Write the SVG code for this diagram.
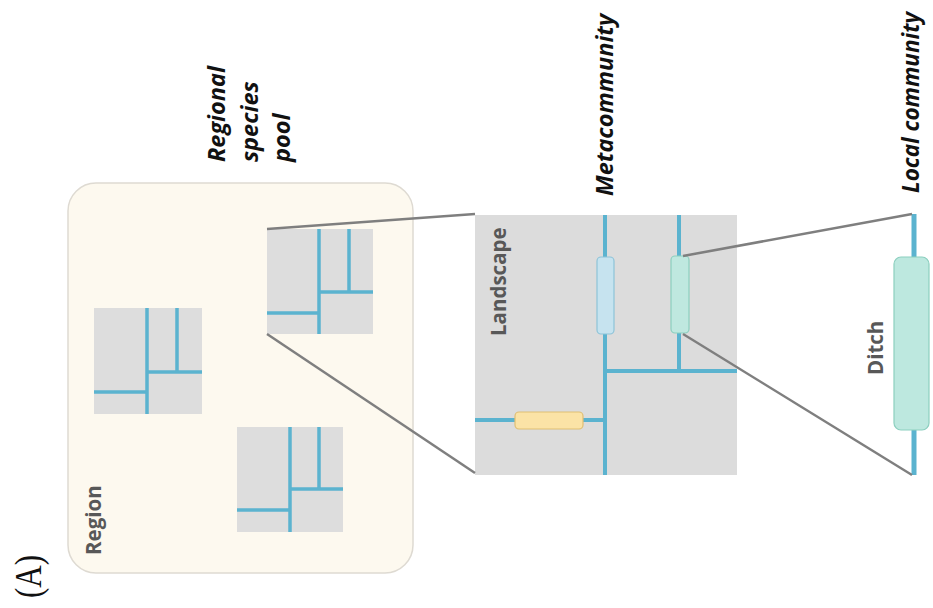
<svg xmlns="http://www.w3.org/2000/svg" width="933" height="608" viewBox="0 0 933 608">
<style>
.tile{fill:#dddddd}
.riv{fill:none;stroke:#5bb3cf;stroke-width:3.5;stroke-linecap:butt}
.rivL{fill:none;stroke:#5bb3cf;stroke-width:4}
.con{fill:none;stroke:#7f7f7f;stroke-width:2.5}
.head{font-family:"Open Sans","Liberation Sans",sans-serif;font-weight:bold;font-style:italic;font-size:23.5px;fill:#111}
.lab{font-family:"Open Sans","Liberation Sans",sans-serif;font-weight:bold;font-size:20.5px;fill:#585858}
</style>
<rect width="933" height="608" fill="#ffffff"/>
<g id="region">
<rect x="68" y="183" width="345" height="390" rx="28" fill="#fdf9ef" stroke="#dedad2" stroke-width="1.5"/>
<text class="lab" transform="translate(101,555) rotate(-90)">Region</text>
</g>
<g id="tile1">
<rect class="tile" x="267" y="229" width="106" height="105"/>
<path class="riv" d="M319 229V334M349 229V292M319 292H373M267 313H319"/>
</g>
<g id="tile2">
<rect class="tile" x="94" y="308" width="108" height="106"/>
<path class="riv" d="M147 308V414M177 308V372M147 372H202M94 392H147"/>
</g>
<g id="tile3">
<rect class="tile" x="237" y="427" width="106" height="105"/>
<path class="riv" d="M290 427V532M319 427V489M290 489H343M237 510H290"/>
</g>
<g id="landscape">
<rect x="475" y="215" width="262" height="260" fill="#dcdcdc"/>
<path class="rivL" d="M605 215V475M679 215V371M605 371H737M475 420H605"/>
<rect x="597" y="257" width="17" height="77" rx="4" fill="#c6e3ef" stroke="#8ec3d8" stroke-width="1.2"/>
<rect x="671" y="256" width="18" height="77" rx="4" fill="#bfe8df" stroke="#8ccfbf" stroke-width="1.2"/>
<rect x="515" y="412" width="68" height="17" rx="4" fill="#fbe3a6" stroke="#e0bf73" stroke-width="1.2"/>
<text class="lab" transform="translate(506,336) rotate(-90)">Landscape</text>
</g>
<g id="ditch">
<path d="M914 214V475" fill="none" stroke="#5bb3cf" stroke-width="5"/>
<rect x="894" y="257" width="35" height="173" rx="7" fill="#bde8df" stroke="#8ccfbf" stroke-width="1.2"/>
<text class="lab" transform="translate(883,375) rotate(-90)">Ditch</text>
</g>
<g id="connectors">
<path class="con" d="M267 229L475 214"/>
<path class="con" d="M267 334L475 473"/>
<path class="con" d="M683 256L912 214"/>
<path class="con" d="M683 334L912 475"/>
</g>
<g id="labels">
<text class="head" transform="translate(225,162) rotate(-90)">Regional</text>
<text class="head" transform="translate(258,162) rotate(-90)">species</text>
<text class="head" transform="translate(290,162) rotate(-90)">pool</text>
<text class="head" transform="translate(613,196) rotate(-90)">Metacommunity</text>
<text class="head" transform="translate(919,193) rotate(-90)" style="font-size:22.5px">Local community</text>
<text transform="translate(41,598) rotate(-90) scale(1,1.2)" font-family="'Liberation Serif',serif" font-size="31" fill="#111">(A)</text>
</g>
</svg>
